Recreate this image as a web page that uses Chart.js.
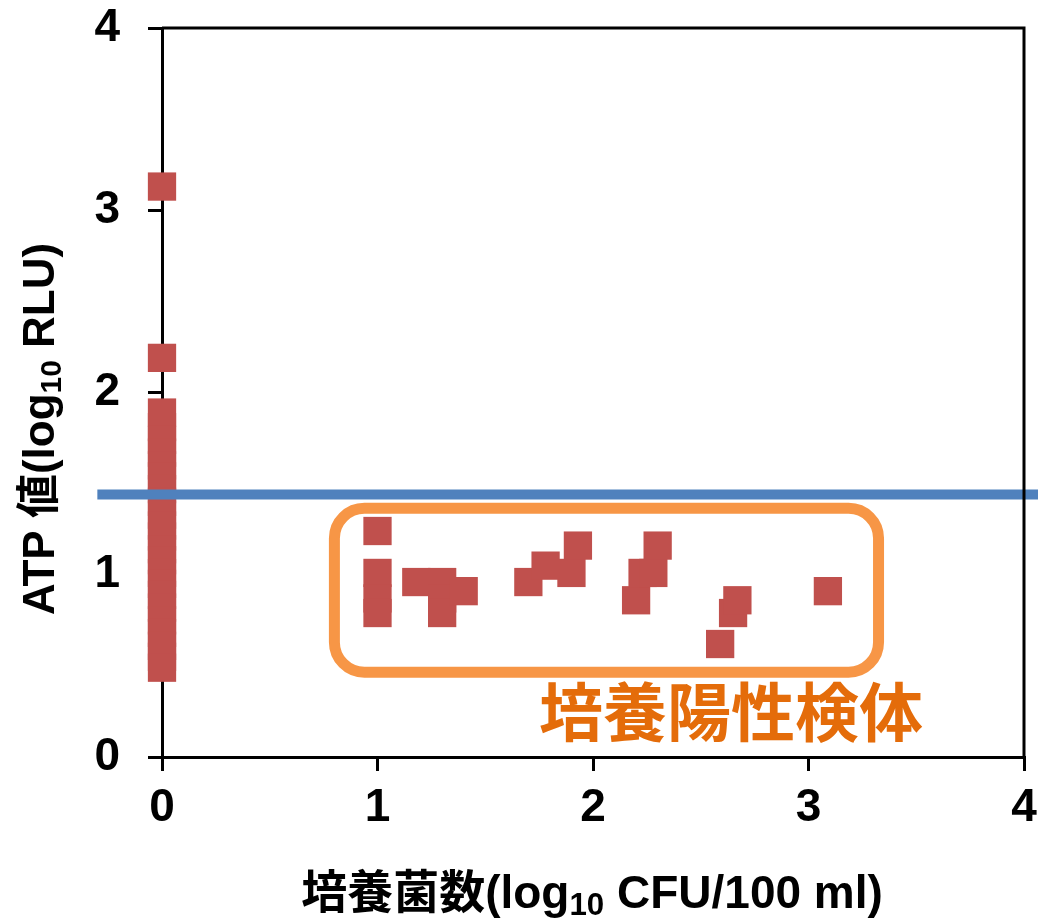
<!DOCTYPE html>
<html>
<head>
<meta charset="utf-8">
<script src="https://cdn.jsdelivr.net/npm/chart.js@4.4.0/dist/chart.umd.min.js"></script>
<style>
  html, body { margin: 0; padding: 0; background: #fff; }
  #wrap { width: 1038px; height: 922px; }
</style>
</head>
<body>
<div id="wrap"><canvas id="chart" width="1038" height="922"></canvas></div>
<script>
// culture count (log10 CFU/100 ml) vs ATP (log10 RLU)
const negX = [0, 0, 0, 0, 0, 0, 0, 0, 0, 0, 0, 0, 0, 0, 0, 0, 0, 0, 0, 0, 0, 0, 0, 0];
const negY = [3.13, 2.19, 1.89, 1.81, 1.74, 1.67, 1.60, 1.54, 1.47, 1.40, 1.33, 1.27,
  1.21, 1.14, 1.08, 1.01, 0.95, 0.89, 0.82, 0.75, 0.68, 0.61, 0.55, 0.49];

const posX = [1.0, 1.0, 1.0, 1.0, 1.18, 1.30, 1.30, 1.30, 1.40, 1.70, 1.78, 1.90,
  1.93, 2.20, 2.23, 2.28, 2.30, 2.59, 2.65, 2.67, 3.09];
const posY = [1.24, 1.01, 0.87, 0.79, 0.96, 0.96, 0.87, 0.79, 0.91, 0.96, 1.05, 1.01,
  1.16, 0.86, 1.01, 1.01, 1.16, 0.62, 0.79, 0.86, 0.91];

const thresholdY = 1.44;
const thresholdRange = [-0.3, 4.1];

const xTicks = [0, 1, 2, 3, 4];
const yTicks = [0, 1, 2, 3, 4];

const xTitle = [["培養菌数(log", false], ["10", true], [" CFU/100 ml)", false]];
const yTitle = [["ATP 値(log", false], ["10", true], [" RLU)", false]];
const boxLabel = "培養陽性検体";

// positive group frame, in data units
const box = { x0: 0.80, x1: 3.325, y0: 0.465, y1: 1.365 };
const boxLabelAt = { x: 2.64, y: 0.21 };

const RED = "#C0504D";
const BLUE = "#4F81BD";
const ORANGE = "#F79646";
const ORANGE_TEXT = "#E46C0A";
const FONT = '"Liberation Sans", "Noto Sans CJK JP", sans-serif';

function toPoints(xs, ys) {
  return xs.map((x, i) => ({ x: x, y: ys[i] }));
}

function drawRich(ctx, parts, size) {
  // measure, then draw centred on (0,0)
  let total = 0;
  const widths = parts.map(([t, sub]) => {
    ctx.font = "bold " + (sub ? size * 0.68 : size) + "px " + FONT;
    const w = ctx.measureText(t).width;
    total += w;
    return w;
  });
  let x = -total / 2;
  parts.forEach(([t, sub], i) => {
    ctx.font = "bold " + (sub ? size * 0.68 : size) + "px " + FONT;
    ctx.fillText(t, x, sub ? size * 0.52 : size * 0.36);
    x += widths[i];
  });
}

const extras = {
  id: "extras",
  beforeDatasetsDraw(chart) {
    const { ctx, scales } = chart;
    const xs = scales.x, ys = scales.y;
    ctx.save();
    const l = xs.getPixelForValue(box.x0), r = xs.getPixelForValue(box.x1);
    const t = ys.getPixelForValue(box.y1), b = ys.getPixelForValue(box.y0);
    ctx.strokeStyle = ORANGE;
    ctx.lineWidth = 11;
    ctx.beginPath();
    ctx.roundRect(l, t, r - l, b - t, 30);
    ctx.stroke();

    ctx.fillStyle = ORANGE_TEXT;
    ctx.font = "bold 64px " + FONT;
    ctx.textAlign = "center";
    ctx.textBaseline = "middle";
    ctx.fillText(boxLabel, xs.getPixelForValue(boxLabelAt.x), ys.getPixelForValue(boxLabelAt.y));
    ctx.restore();
  },
  afterDraw(chart) {
    const { ctx, chartArea: a } = chart;
    ctx.save();
    // top and right frame
    ctx.strokeStyle = "#000";
    ctx.lineWidth = 3;
    ctx.beginPath();
    ctx.moveTo(a.left, a.top);
    ctx.lineTo(a.right, a.top);
    ctx.lineTo(a.right, a.bottom);
    ctx.stroke();

    ctx.fillStyle = "#000";
    ctx.textAlign = "left";
    ctx.textBaseline = "alphabetic";
    ctx.save();
    ctx.translate(592, 891);
    drawRich(ctx, xTitle, 46);
    ctx.restore();

    ctx.save();
    ctx.translate(38, 429);
    ctx.rotate(-Math.PI / 2);
    drawRich(ctx, yTitle, 44);
    ctx.restore();
    ctx.restore();
  }
};

new Chart(document.getElementById("chart"), {
  type: "scatter",
  data: {
    datasets: [
      {
        type: "line",
        data: thresholdRange.map((x) => ({ x: x, y: thresholdY })),
        borderColor: BLUE,
        borderWidth: 10,
        pointRadius: 0,
        clip: false,
        order: 0
      },
      {
        data: toPoints(negX, negY),
        backgroundColor: RED,
        borderWidth: 0,
        pointStyle: "rect",
        pointRadius: 20,
        clip: false,
        order: 1
      },
      {
        data: toPoints(posX, posY),
        backgroundColor: RED,
        borderWidth: 0,
        pointStyle: "rect",
        pointRadius: 20,
        clip: false,
        order: 1
      }
    ]
  },
  options: {
    responsive: false,
    animation: false,
    layout: { autoPadding: false, padding: { top: 28, right: 14, left: 0, bottom: 0 } },
    plugins: { legend: { display: false }, tooltip: { enabled: false } },
    scales: {
      x: {
        type: "linear",
        min: 0,
        max: 4,
        afterBuildTicks: (s) => { s.ticks = xTicks.map((v) => ({ value: v })); },
        afterFit: (s) => { s.height = 165; s.paddingLeft = 0; s.paddingRight = 0; },
        border: { color: "#000", width: 3 },
        grid: { drawOnChartArea: false, drawTicks: true, tickLength: 14, tickColor: "#000", lineWidth: 3 },
        ticks: { color: "#000", padding: 10, font: { family: FONT, size: 46, weight: "bold" } }
      },
      y: {
        type: "linear",
        min: 0,
        max: 4,
        afterBuildTicks: (s) => { s.ticks = yTicks.map((v) => ({ value: v })); },
        afterFit: (s) => { s.width = 162; s.paddingTop = 0; s.paddingBottom = 0; },
        border: { color: "#000", width: 3 },
        grid: { drawOnChartArea: false, drawTicks: true, tickLength: 14, tickColor: "#000", lineWidth: 3 },
        ticks: { color: "#000", padding: 28, font: { family: FONT, size: 46, weight: "bold" } }
      }
    }
  },
  plugins: [extras]
});
</script>
</body>
</html>
